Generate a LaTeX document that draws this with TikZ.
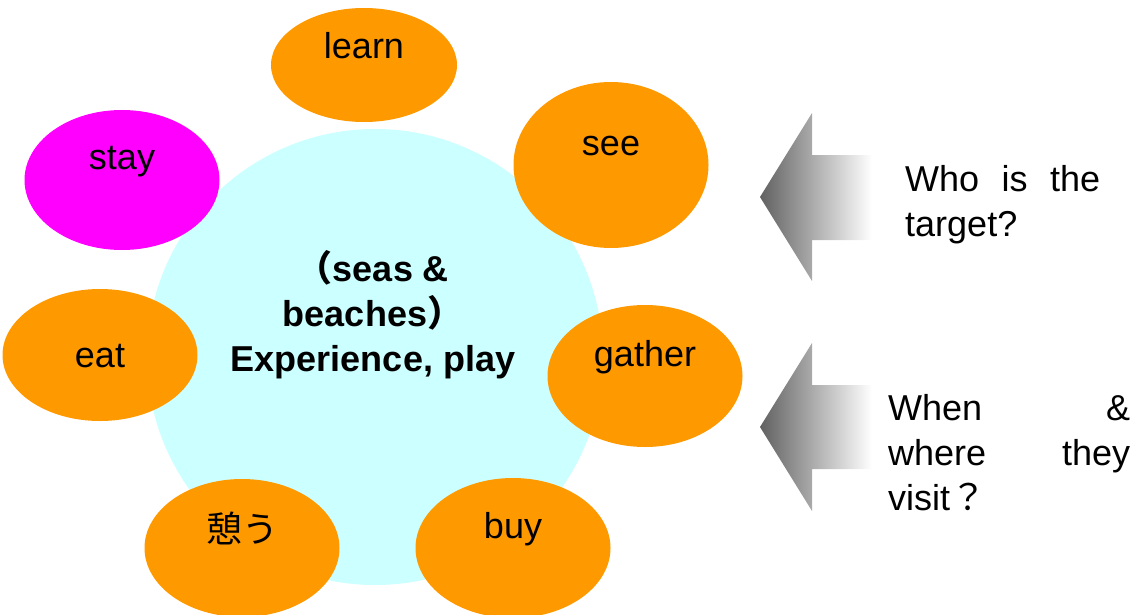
\documentclass[tikz,border=0pt]{standalone}
\usepackage{fontspec}
\setmainfont{Liberation Sans}
\newfontfamily\cjk{Noto Sans CJK JP}
\usetikzlibrary{shapes.geometric}
\definecolor{sea}{HTML}{CCFFFF}
\definecolor{act}{HTML}{FF9900}
\definecolor{mag}{HTML}{FF00FF}
\tikzset{
  bubble/.style={ellipse, fill=act, draw=none, inner sep=0pt},
  lbl/.style={font=\fontsize{36}{45}\selectfont, text=black, inner sep=0pt, anchor=center},
  qtext/.style={font=\fontsize{36}{45}\selectfont, text=black, inner sep=0pt, align=left, anchor=north west},
  fadearrow/.style={left color=black!62, right color=white, draw=none, shading angle=90}
}
\begin{document}
\begin{tikzpicture}[x=1pt,y=-1pt]
\useasboundingbox (0,0) rectangle (1134,615);
\clip (0,0) rectangle (1134,615);
% central circle
\node[circle, fill=sea, minimum size=456pt, inner sep=0pt] (core) at (375,357) {};
\node[font=\bfseries\fontsize{36}{45}\selectfont, align=center, inner sep=0pt] (coretext) at (373,315)
  {{\cjk （}seas \&\\beaches{\cjk ）}\\Experience, play};
% activity bubbles
\node[bubble, minimum width=186pt, minimum height=114pt] (learn) at (364,65) {};
\node[bubble, minimum width=195pt, minimum height=166pt] (see) at (611,165) {};
\node[bubble, fill=mag, minimum width=195pt, minimum height=140pt] (stay) at (122,180) {};
\node[bubble, minimum width=195pt, minimum height=132pt] (eat) at (100,355) {};
\node[bubble, minimum width=195pt, minimum height=142pt] (gather) at (645,376) {};
\node[bubble, minimum width=195pt, minimum height=138pt] (rest) at (242,548) {};
\node[bubble, minimum width=195pt, minimum height=140pt] (buy) at (513,548) {};
\node[lbl] (learnt) at ([yshift=19pt]learn.center) {learn};
\node[lbl] (seet) at ([yshift=19pt]see.center) {see};
\node[lbl] (stayt) at ([yshift=18pt]stay.center) {stay};
\node[lbl] (eatt) at ([yshift=-1pt]eat.center) {eat};
\node[lbl] (gathert) at ([yshift=19pt]gather.center) {gather};
\node[lbl] (restt) at ([yshift=20pt]rest.center) {\cjk 憩う};
\node[lbl] (buyt) at ([yshift=19pt]buy.center) {buy};
% arrows
\shade[fadearrow] (760,197) -- (812,113) -- (812,155) -- (872,155) -- (872,240) -- (812,240) -- (812,281) -- cycle;
\shade[fadearrow] (760,427) -- (812,343) -- (812,385) -- (872,385) -- (872,469) -- (812,469) -- (812,511) -- cycle;
% question texts
\node[qtext] (q1) at (905,165) {\makebox[195pt][s]{Who is the}\\target?};
\node[qtext] (q2) at (888,394) {\makebox[242pt][s]{When \&}\\\makebox[242pt][s]{where they}\\visit{\cjk ？}};
\end{tikzpicture}
\end{document}
